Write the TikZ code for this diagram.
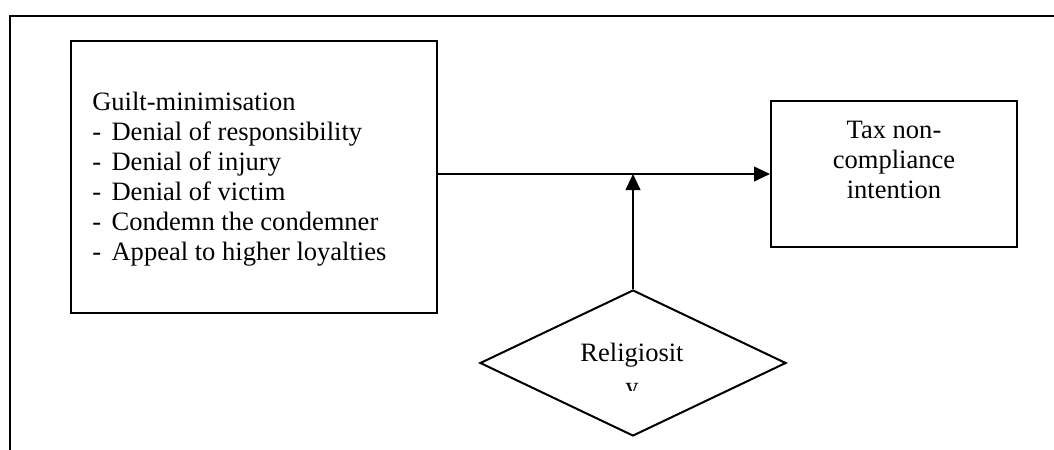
\documentclass[tikz,border=0pt]{standalone}
\usepackage{fontspec}
\setmainfont{Liberation Serif}
\usetikzlibrary{arrows.meta,shapes.geometric}
\begin{document}
\begin{tikzpicture}[x=0.75pt,y=-0.75pt,
  every node/.style={font=\fontsize{19.9pt}{22.5pt}\selectfont, inner sep=0pt},
  boxnode/.style={draw, line width=1.5pt, rectangle},
  txt/.style={anchor=base},
  conn/.style={line width=1.5pt, -{Triangle[length=12pt,width=11pt]}},
  frame/.style={line width=1.5pt}]
\useasboundingbox (0,0) rectangle (1054,450);
% outer frame
\coordinate (fa) at (10,451);
\coordinate (fb) at (10,15.5);
\coordinate (fc) at (1055,15.5);
\draw[frame] (fa) -- (fb) -- (fc);
% boxes
\node[boxnode, minimum width=274.5pt, minimum height=204pt] (gm) at (254,177) {};
\node[boxnode, minimum width=184.5pt, minimum height=109.5pt] (tax) at (894,174) {};
\node[draw, line width=1.5pt, shape=diamond, minimum width=229.5pt, minimum height=109.5pt] (rel) at (633,363) {};
% texts
\node[anchor=base west] (gmtext) at (92,110) {\parbox[t]{260pt}{Guilt-minimisation\\
\makebox[14.5pt][l]{-}Denial of responsibility\\
\makebox[14.5pt][l]{-}Denial of injury\\
\makebox[14.5pt][l]{-}Denial of victim\\
\makebox[14.5pt][l]{-}Condemn the condemner\\
\makebox[14.5pt][l]{-}Appeal to higher loyalties}};
\node[txt] (taxtext) at (894,138) {\parbox[t]{180pt}{\centering Tax non-\\compliance\\intention}};
\node[txt] (reltext) at (632,361) {Religiosit};
\begin{scope}
\clip (470,370) rectangle (800,390);
\node[txt] (reltail) at (632,395) {y};
\end{scope}
% connectors
\draw[conn] (gm.east |- tax.west) -- (tax.west);
\draw[conn] (rel.north) -- (rel.north |- tax.west);
\end{tikzpicture}
\end{document}
